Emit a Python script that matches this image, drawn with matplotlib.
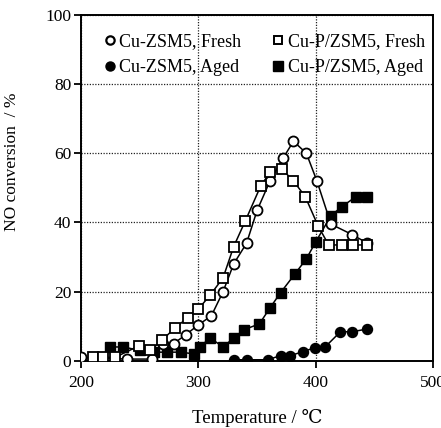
import matplotlib
matplotlib.use("Agg")
import matplotlib.pyplot as plt
from matplotlib.lines import Line2D

plt.rcParams['font.family'] = ['Liberation Serif', 'DejaVu Serif']

# Cu-ZSM5, fresh
t_cz_fresh = [200, 239, 260, 270, 279, 289, 300, 311, 321, 330, 341, 350, 361, 372, 381, 392, 401, 413, 431, 444]
v_cz_fresh = [1, 0.5, 0.5, 5, 5, 7.5, 10.4, 13, 20, 28, 34, 43.5, 52, 58.5, 63.5, 60, 52, 39.5, 36.5, 34]

# Cu-P/ZSM5, fresh
t_cpz_fresh = [210, 219, 229, 249, 259, 269, 280, 291, 300, 310, 321, 330, 340, 353, 361, 371, 381, 391, 402, 411, 422, 432, 444]
v_cpz_fresh = [1, 1, 1, 4.3, 3, 6, 9.5, 12.5, 15, 19, 24, 33, 40.5, 50.5, 54.5, 55.5, 52, 47.5, 39, 33.5, 33.5, 33.5, 33.5]

# Cu-ZSM5, aged
t_cz_aged = [330, 341, 359, 370, 378, 389, 399, 408, 421, 431, 444]
v_cz_aged = [0.3, 0.3, 0.3, 1.5, 1.5, 2.6, 3.8, 4, 8.4, 8.4, 9.2]

# Cu-P/ZSM5, aged
t_cpz_aged = [225, 236, 250, 262, 273, 285, 296, 301, 310, 321, 330, 339, 352, 361, 370, 382, 392, 400, 413, 422, 434, 444]
v_cpz_aged = [4, 4, 3, 2.5, 2.5, 2.5, 2, 4, 6.6, 4, 6.6, 9, 10.7, 15.3, 19.7, 25, 29.5, 34.4, 42, 44.5, 47.4, 47.4]

fig = plt.figure(figsize=(4.41, 4.28), dpi=100)
ax = fig.add_axes([0.184, 0.157, 0.798, 0.808])

ms = 7.2
mew = 1.3
lw = 1.1
ax.plot(t_cz_aged, v_cz_aged, '-o', color='black', ms=ms, mfc='black', mec='black', lw=lw, zorder=3)
ax.plot(t_cpz_aged, v_cpz_aged, '-s', color='black', ms=ms, mfc='black', mec='black', lw=lw, zorder=3)
ax.plot(t_cz_fresh, v_cz_fresh, '-o', color='black', ms=ms, mfc='white', mec='black', mew=mew, lw=lw, zorder=4)
ax.plot(t_cpz_fresh, v_cpz_fresh, '-s', color='black', ms=ms, mfc='white', mec='black', mew=mew, lw=lw, zorder=4)

ax.set_xlim(200, 500)
ax.set_ylim(0, 100)
ax.set_xticks([200, 300, 400, 500])
ax.set_yticks([0, 20, 40, 60, 80, 100])
ax.grid(True, linestyle=(0, (1, 1.2)), color='#222222', linewidth=0.9)
ax.set_axisbelow(True)

for s in ax.spines.values():
    s.set_linewidth(1.4)
ax.tick_params(direction='out', length=5, width=1.3, labelsize=12.5)
ax.tick_params(axis='x', pad=5)
ax.tick_params(axis='y', pad=2)

ax.set_xlabel("Temperature / ℃", fontsize=13.5, labelpad=13)
ax.set_ylabel("NO conversion  / %", fontsize=12.5)
ax.yaxis.set_label_coords(-0.175, 0.575)

# legend: two columns, fresh samples in the first row, aged in the second
handles = [
    Line2D([], [], ls='none', marker='o', ms=6, mfc='white', mec='black', mew=1.6),
    Line2D([], [], ls='none', marker='o', ms=6.5, mfc='black', mec='black'),
    Line2D([], [], ls='none', marker='s', ms=6, mfc='white', mec='black', mew=1.4),
    Line2D([], [], ls='none', marker='s', ms=6.5, mfc='black', mec='black'),
]
labels = ["Cu-ZSM5, Fresh", "Cu-ZSM5, Aged", "Cu-P/ZSM5, Fresh", "Cu-P/ZSM5, Aged"]
ax.legend(handles, labels, ncol=2, loc='upper left', bbox_to_anchor=(0.055, 0.948),
          frameon=False, fontsize=13, handletextpad=0.05, handlelength=1.0,
          columnspacing=1.5, labelspacing=0.5, borderpad=0.0, borderaxespad=0.0)

fig.savefig("out.png", dpi=100)
